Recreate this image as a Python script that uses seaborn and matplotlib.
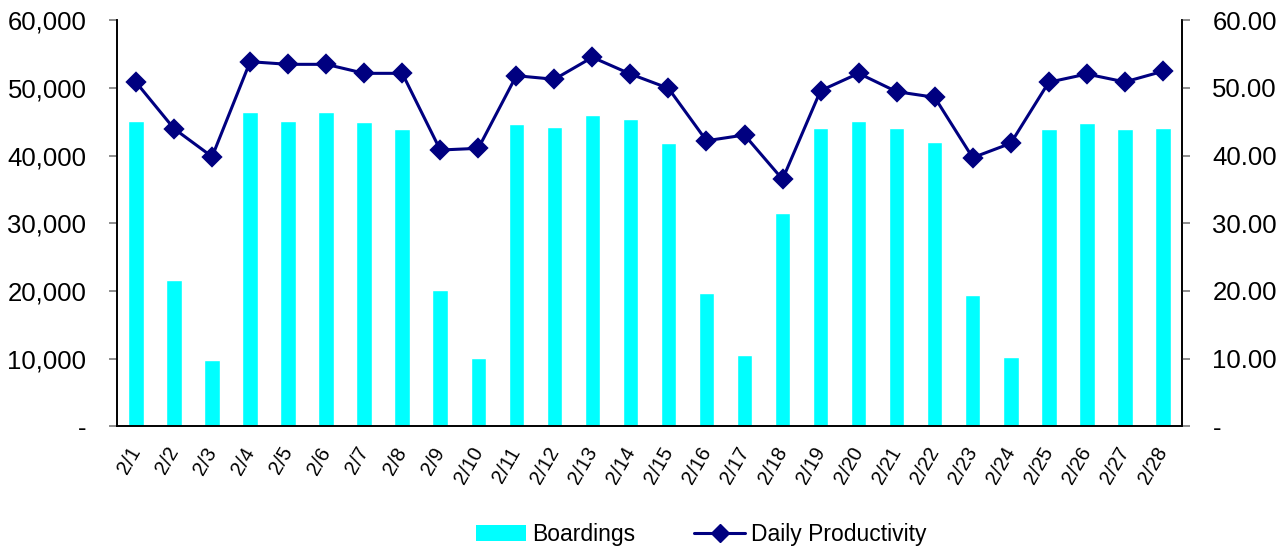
import matplotlib
matplotlib.use("Agg")
import matplotlib.pyplot as plt
import matplotlib.ticker as mticker
import seaborn as sns
import pandas as pd
from matplotlib.patches import Patch
from matplotlib.lines import Line2D

dates = [f"2/{d}" for d in range(1, 29)]
boardings = [45160, 21620, 9750, 46490, 45160, 46400, 45000, 43900, 20140, 10050,
             44720, 44280, 45960, 45370, 41820, 19700, 10540, 31470, 44080, 45160,
             44080, 42010, 19400, 10240, 43980, 44820, 43930, 44080]
productivity = [50.84, 43.98, 39.84, 53.88, 53.49, 53.49, 52.16, 52.16, 40.83, 41.08,
                51.81, 51.28, 54.53, 52.06, 49.95, 42.20, 43.05, 36.50, 49.60, 52.16,
                49.45, 48.62, 39.70, 41.82, 50.84, 52.06, 50.89, 52.46]

df = pd.DataFrame({"date": dates, "Boardings": boardings, "Daily Productivity": productivity})

sns.set_theme(style="white")
plt.rcParams['font.family'] = ['Liberation Sans', 'DejaVu Sans']
plt.rcParams['text.color'] = 'black'

fig = plt.figure(figsize=(12.86, 5.48), dpi=100)
ax = fig.add_axes([0.091, 0.222, 0.828, 0.741])

sns.barplot(data=df, x="date", y="Boardings", color="#00FFFF", saturation=1,
            width=0.41, ax=ax, order=dates)
ax2 = ax.twinx()
sns.pointplot(data=df, x="date", y="Daily Productivity", color="#000080",
              markers="D", markersize=9, linewidth=2.2, ax=ax2, order=dates)

ax.set_xlim(-0.5, 27.5)
ax.set_ylim(0, 60000)
ax2.set_ylim(0, 60)
ax.set_yticks(range(0, 60001, 10000))
ax2.set_yticks(range(0, 61, 10))
ax.yaxis.set_major_formatter(mticker.FuncFormatter(lambda v, p: "-" if v == 0 else f"{v:,.0f}"))
ax2.yaxis.set_major_formatter(mticker.FuncFormatter(lambda v, p: "-" if v == 0 else f"{v:.2f}"))

for a in (ax, ax2):
    a.set_xlabel("")
    a.set_ylabel("")
    a.spines["top"].set_visible(False)
    for s in ("left", "right", "bottom"):
        a.spines[s].set_color("black")
        a.spines[s].set_linewidth(1.2)

ax.tick_params(axis="y", which="major", left=True, length=6, color="gray",
               labelsize=18.5, pad=16, labelcolor="black")
ax2.tick_params(axis="y", which="major", right=True, length=6, color="gray",
                labelsize=18.5, pad=16, labelcolor="black")
ax.set_xticks(range(len(dates)))
ax.set_xticklabels(dates, rotation=60, ha="right", va="center",
                   rotation_mode="anchor", fontsize=14.5)
ax.tick_params(axis="x", length=0, pad=16, labelcolor="black")
ax2.tick_params(axis="x", length=0)

handles = [Patch(facecolor="#00FFFF", edgecolor="none", label="Boardings"),
           Line2D([0], [0], color="#000080", marker="D", markersize=9, linewidth=2.2,
                  label="Daily Productivity")]
fig.legend(handles=handles, loc="center", bbox_to_anchor=(0.545, 0.024), ncol=2,
           frameon=False, fontsize=16.5, handlelength=2.2, columnspacing=2.6,
           handletextpad=0.25, labelcolor="black")

fig.savefig("out.png", dpi=100)
